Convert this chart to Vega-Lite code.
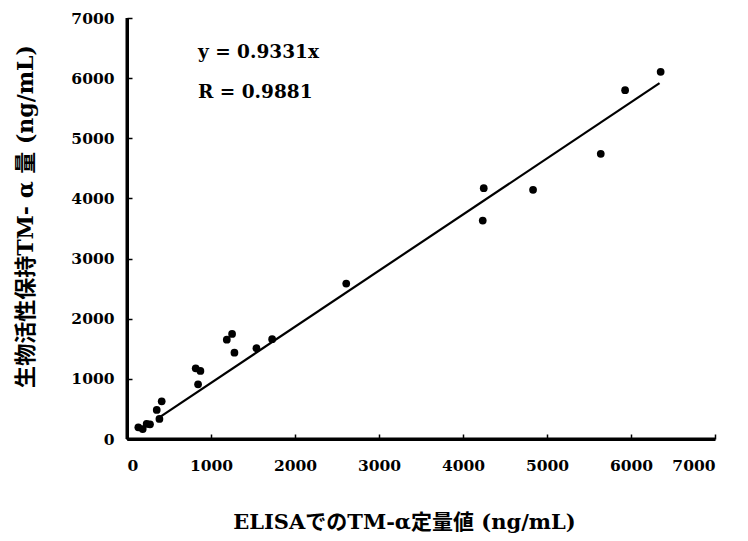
{
  "$schema": "https://vega.github.io/schema/vega-lite/v6.json",
  "width": 588,
  "height": 421,
  "autosize": "none",
  "padding": {"left": 127, "top": 18, "right": 33, "bottom": 102},
  "background": "white",
  "config": {
    "view": {"stroke": null},
    "axis": {
      "grid": false,
      "domain": true,
      "domainColor": "#000000",
      "domainWidth": 3,
      "ticks": true,
      "tickColor": "#000000",
      "tickWidth": 1.5,
      "tickSize": -5,
      "labelFont": "DejaVu Serif",
      "labelFontWeight": "bold",
      "labelFontSize": 15.5,
      "labelColor": "black",
      "format": "d",
      "titleFont": "DejaVu Serif, Noto Sans CJK JP",
      "titleFontWeight": "bold",
      "titleFontSize": 21,
      "titleColor": "black"
    }
  },
  "datasets": {
    "pts": [
      {"elisa": 135, "bio": 194},
      {"elisa": 187, "bio": 166},
      {"elisa": 234, "bio": 250},
      {"elisa": 274, "bio": 244},
      {"elisa": 354, "bio": 483},
      {"elisa": 386, "bio": 333},
      {"elisa": 413, "bio": 627},
      {"elisa": 818, "bio": 1176},
      {"elisa": 874, "bio": 1131},
      {"elisa": 846, "bio": 910},
      {"elisa": 1188, "bio": 1652},
      {"elisa": 1251, "bio": 1747},
      {"elisa": 1279, "bio": 1436},
      {"elisa": 1541, "bio": 1509},
      {"elisa": 1728, "bio": 1659},
      {"elisa": 2610, "bio": 2585},
      {"elisa": 4247, "bio": 4171},
      {"elisa": 4235, "bio": 3632},
      {"elisa": 4834, "bio": 4143},
      {"elisa": 5640, "bio": 4742},
      {"elisa": 5930, "bio": 5800},
      {"elisa": 6353, "bio": 6105}
    ],
    "fit": [
      {"elisa": 350, "bio": 326.6},
      {"elisa": 6340, "bio": 5915.9}
    ],
    "notes": [
      {"elisa": 845, "bio": 6440, "label": "y = 0.9331x"},
      {"elisa": 845, "bio": 5775, "label": "R = 0.9881"}
    ],
    "zero": [{"v": 0}]
  },
  "layer": [
    {
      "data": {"name": "fit"},
      "mark": {"type": "line", "color": "black", "strokeWidth": 2.2},
      "encoding": {
        "x": {
          "field": "elisa", "type": "quantitative",
          "scale": {"domain": [0, 7000], "nice": false},
          "axis": {
            "values": [0, 1000, 2000, 3000, 4000, 5000, 6000, 7000],
            "title": "ELISAでのTM-α定量値 (ng/mL)",
            "labelPadding": 24,
            "titleX": 277,
            "titleY": 83,
            "titleBaseline": "middle"
          }
        },
        "y": {
          "field": "bio", "type": "quantitative",
          "scale": {"domain": [0, 7000], "nice": false},
          "axis": {
            "values": [0, 1000, 2000, 3000, 4000, 5000, 6000, 7000],
            "title": "生物活性保持TM- α 量 (ng/mL)",
            "labelPadding": 18,
            "titleFontSize": 22,
            "titleAngle": -90,
            "titleX": -102,
            "titleY": 198,
            "titleBaseline": "middle",
            "titleAlign": "center"
          }
        }
      }
    },
    {
      "data": {"name": "pts"},
      "mark": {"type": "circle", "color": "black", "opacity": 1, "size": 60},
      "encoding": {
        "x": {"field": "elisa", "type": "quantitative"},
        "y": {"field": "bio", "type": "quantitative"}
      }
    },
    {
      "data": {"name": "notes"},
      "mark": {"type": "text", "align": "left", "baseline": "middle", "font": "DejaVu Serif", "fontWeight": "bold", "fontSize": 18.5, "color": "black"},
      "encoding": {
        "x": {"field": "elisa", "type": "quantitative"},
        "y": {"field": "bio", "type": "quantitative"},
        "text": {"field": "label"}
      }
    },
    {
      "data": {"name": "zero"},
      "mark": {"type": "rule", "color": "black", "strokeWidth": 3},
      "encoding": {"x": {"field": "v", "type": "quantitative"}}
    },
    {
      "data": {"name": "zero"},
      "mark": {"type": "rule", "color": "black", "strokeWidth": 3},
      "encoding": {"y": {"field": "v", "type": "quantitative"}}
    }
  ]
}
